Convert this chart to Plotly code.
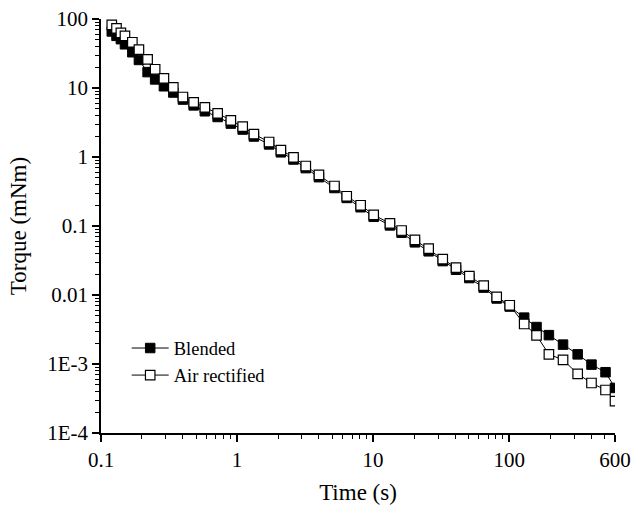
import plotly.graph_objects as go

time_s = [0.12, 0.13, 0.14, 0.15, 0.17, 0.19, 0.22, 0.25, 0.29, 0.34, 0.40, 0.48, 0.58, 0.72, 0.90,
          1.1, 1.33, 1.72, 2.1, 2.6, 3.2, 4.0, 5.2, 6.4, 8.1, 10.1,
          13.3, 16.2, 20.3, 25.6, 32.5, 40.7, 51, 65, 81, 101,
          129, 159, 196, 249, 319, 403, 511, 600]

blended = [66, 57, 51, 43, 33, 25.5, 17, 13.3, 10.6, 8.6, 6.8, 5.6, 4.6, 3.8, 3.05,
           2.5, 1.98, 1.52, 1.17, 0.92, 0.69, 0.51, 0.355, 0.255, 0.187, 0.136,
           0.102, 0.080, 0.058, 0.043, 0.031, 0.0232, 0.0176, 0.0128, 0.0089, 0.0068,
           0.0047, 0.00343, 0.00262, 0.00191, 0.00138, 0.00098, 0.00076, 0.00045]

air_rectified = [82, 73, 63, 57, 46, 36, 26, 18.7, 13.8, 10.2, 7.4, 6.2, 5.25, 4.3, 3.4,
                 2.75, 2.15, 1.65, 1.26, 0.99, 0.74, 0.55, 0.38, 0.27, 0.20, 0.145,
                 0.109, 0.086, 0.063, 0.047, 0.033, 0.025, 0.0188, 0.0137, 0.0094, 0.0071,
                 0.0038, 0.0026, 0.00138, 0.00115, 0.00072, 0.00053, 0.00042, 0.00029]

x_tickvals = [0.1, 1, 10, 100, 600]
x_ticktext = ["0.1", "1", "10", "100", "600"]
y_tickvals = [1e-4, 1e-3, 0.01, 0.1, 1, 10, 100]
y_ticktext = ["1E-4", "1E-3", "0.01", "0.1", "1", "10", "100"]

x_minor = [m * 10.0 ** e for e in range(-1, 3) for m in range(2, 10) if m * 10.0 ** e < 600]
y_minor = [m * 10.0 ** e for e in range(-4, 2) for m in range(2, 10)]

FONT = "Liberation Serif, Times New Roman, serif"

fig = go.Figure()
fig.add_trace(go.Scatter(
    x=time_s, y=blended, name="Blended", mode="lines+markers",
    line=dict(color="black", width=1),
    marker=dict(symbol="square", size=9.5, color="black", line=dict(color="black", width=1)),
))
fig.add_trace(go.Scatter(
    x=time_s, y=air_rectified, name="Air rectified", mode="lines+markers",
    line=dict(color="black", width=1),
    marker=dict(symbol="square", size=9.5, color="white", line=dict(color="black", width=1.2)),
))

fig.update_layout(
    width=635, height=505,
    margin=dict(l=101, r=20, t=19, b=72),
    paper_bgcolor="white", plot_bgcolor="white",
    font=dict(family=FONT, color="black", size=21),
    showlegend=True,
    legend=dict(x=0.05, y=0.25, xanchor="left", yanchor="top",
                font=dict(family=FONT, size=18.5, color="black"),
                bgcolor="rgba(0,0,0,0)", itemwidth=37, tracegroupgap=0),
)
fig.update_xaxes(
    type="log", range=[-1, 2.77815], showgrid=False, zeroline=False, automargin=False,
    showline=True, linecolor="black", linewidth=1.5,
    ticks="outside", ticklen=7, tickwidth=1.5, tickcolor="black",
    tickmode="array", tickvals=x_tickvals, ticktext=x_ticktext,
    tickfont=dict(family=FONT, size=21),
    minor=dict(ticks="outside", ticklen=4, tickwidth=1, tickcolor="black",
               tickmode="array", tickvals=x_minor, showgrid=False),
    title=dict(text="Time (s)", font=dict(family=FONT, size=23), standoff=14),
)
fig.update_yaxes(
    type="log", range=[-4, 2], showgrid=False, zeroline=False, automargin=False,
    showline=True, linecolor="black", linewidth=1.5,
    ticks="outside", ticklen=7, tickwidth=1.5, tickcolor="black",
    tickmode="array", tickvals=y_tickvals, ticktext=y_ticktext,
    tickfont=dict(family=FONT, size=21),
    minor=dict(ticks="outside", ticklen=4, tickwidth=1, tickcolor="black",
               tickmode="array", tickvals=y_minor, showgrid=False),
    title=dict(text="Torque (mNm)", font=dict(family=FONT, size=23), standoff=14),
)

fig.write_html("out.html")
